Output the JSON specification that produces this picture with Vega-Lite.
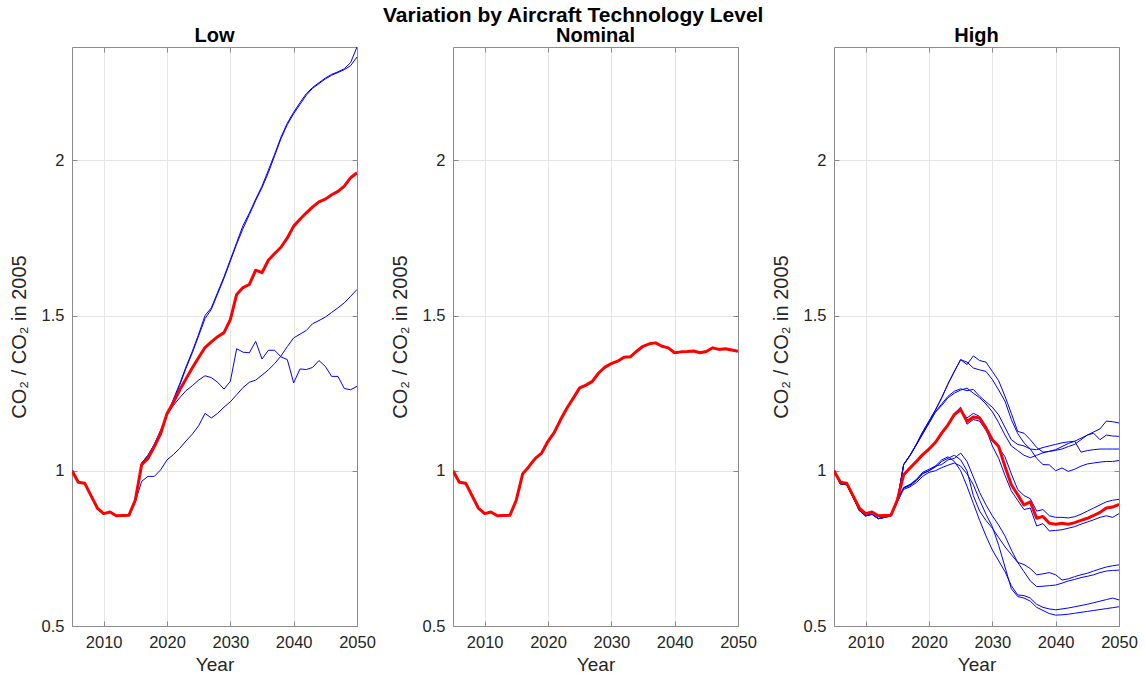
{
"$schema":"https://vega.github.io/schema/vega-lite/v6.json",
"padding":{"left":9,"top":4,"right":5,"bottom":2},
"background":"white",
"title":{"text":"Variation by Aircraft Technology Level","fontSize":21,"fontWeight":"bold","font":"Liberation Sans","color":"#000000","anchor":"middle","offset":0},
"bounds":"flush",
"spacing":96,
"data":{"values":[
{"p":"Low","s":"r","year":2005,"v":1},{"p":"Low","s":"r","year":2006,"v":0.963},{"p":"Low","s":"r","year":2007,"v":0.96},{"p":"Low","s":"r","year":2008,"v":0.92},{"p":"Low","s":"r","year":2009,"v":0.88},{"p":"Low","s":"r","year":2010,"v":0.862},{"p":"Low","s":"r","year":2011,"v":0.867},{"p":"Low","s":"r","year":2012,"v":0.855},{"p":"Low","s":"r","year":2013,"v":0.856},{"p":"Low","s":"r","year":2014,"v":0.857},{"p":"Low","s":"r","year":2015,"v":0.906},{"p":"Low","s":"r","year":2016,"v":1.02},{"p":"Low","s":"r","year":2017,"v":1.04},{"p":"Low","s":"r","year":2018,"v":1.078},{"p":"Low","s":"r","year":2019,"v":1.12},{"p":"Low","s":"r","year":2020,"v":1.184},{"p":"Low","s":"r","year":2021,"v":1.22},{"p":"Low","s":"r","year":2022,"v":1.26},{"p":"Low","s":"r","year":2023,"v":1.296},{"p":"Low","s":"r","year":2024,"v":1.332},{"p":"Low","s":"r","year":2025,"v":1.365},{"p":"Low","s":"r","year":2026,"v":1.397},{"p":"Low","s":"r","year":2027,"v":1.415},{"p":"Low","s":"r","year":2028,"v":1.432},{"p":"Low","s":"r","year":2029,"v":1.445},{"p":"Low","s":"r","year":2030,"v":1.487},{"p":"Low","s":"r","year":2031,"v":1.568},{"p":"Low","s":"r","year":2032,"v":1.59},{"p":"Low","s":"r","year":2033,"v":1.6},{"p":"Low","s":"r","year":2034,"v":1.646},{"p":"Low","s":"r","year":2035,"v":1.638},{"p":"Low","s":"r","year":2036,"v":1.678},{"p":"Low","s":"r","year":2037,"v":1.7},{"p":"Low","s":"r","year":2038,"v":1.72},{"p":"Low","s":"r","year":2039,"v":1.75},{"p":"Low","s":"r","year":2040,"v":1.788},{"p":"Low","s":"r","year":2041,"v":1.81},{"p":"Low","s":"r","year":2042,"v":1.831},{"p":"Low","s":"r","year":2043,"v":1.85},{"p":"Low","s":"r","year":2044,"v":1.866},{"p":"Low","s":"r","year":2045,"v":1.875},{"p":"Low","s":"r","year":2046,"v":1.889},{"p":"Low","s":"r","year":2047,"v":1.9},{"p":"Low","s":"r","year":2048,"v":1.917},{"p":"Low","s":"r","year":2049,"v":1.944},{"p":"Low","s":"r","year":2050,"v":1.96},
{"p":"Low","s":"A","year":2005,"v":1},{"p":"Low","s":"A","year":2006,"v":0.963},{"p":"Low","s":"A","year":2007,"v":0.96},{"p":"Low","s":"A","year":2008,"v":0.92},{"p":"Low","s":"A","year":2009,"v":0.88},{"p":"Low","s":"A","year":2010,"v":0.862},{"p":"Low","s":"A","year":2011,"v":0.867},{"p":"Low","s":"A","year":2012,"v":0.855},{"p":"Low","s":"A","year":2013,"v":0.856},{"p":"Low","s":"A","year":2014,"v":0.857},{"p":"Low","s":"A","year":2015,"v":0.9},{"p":"Low","s":"A","year":2016,"v":1.025},{"p":"Low","s":"A","year":2017,"v":1.05},{"p":"Low","s":"A","year":2018,"v":1.085},{"p":"Low","s":"A","year":2019,"v":1.13},{"p":"Low","s":"A","year":2020,"v":1.18},{"p":"Low","s":"A","year":2021,"v":1.23},{"p":"Low","s":"A","year":2022,"v":1.28},{"p":"Low","s":"A","year":2023,"v":1.335},{"p":"Low","s":"A","year":2024,"v":1.385},{"p":"Low","s":"A","year":2025,"v":1.44},{"p":"Low","s":"A","year":2026,"v":1.5},{"p":"Low","s":"A","year":2027,"v":1.525},{"p":"Low","s":"A","year":2028,"v":1.575},{"p":"Low","s":"A","year":2029,"v":1.625},{"p":"Low","s":"A","year":2030,"v":1.68},{"p":"Low","s":"A","year":2031,"v":1.735},{"p":"Low","s":"A","year":2032,"v":1.79},{"p":"Low","s":"A","year":2033,"v":1.83},{"p":"Low","s":"A","year":2034,"v":1.875},{"p":"Low","s":"A","year":2035,"v":1.917},{"p":"Low","s":"A","year":2036,"v":1.968},{"p":"Low","s":"A","year":2037,"v":2.02},{"p":"Low","s":"A","year":2038,"v":2.075},{"p":"Low","s":"A","year":2039,"v":2.12},{"p":"Low","s":"A","year":2040,"v":2.155},{"p":"Low","s":"A","year":2041,"v":2.186},{"p":"Low","s":"A","year":2042,"v":2.215},{"p":"Low","s":"A","year":2043,"v":2.235},{"p":"Low","s":"A","year":2044,"v":2.25},{"p":"Low","s":"A","year":2045,"v":2.265},{"p":"Low","s":"A","year":2046,"v":2.277},{"p":"Low","s":"A","year":2047,"v":2.285},{"p":"Low","s":"A","year":2048,"v":2.295},{"p":"Low","s":"A","year":2049,"v":2.315},{"p":"Low","s":"A","year":2050,"v":2.365},
{"p":"Low","s":"B","year":2005,"v":1},{"p":"Low","s":"B","year":2006,"v":0.963},{"p":"Low","s":"B","year":2007,"v":0.96},{"p":"Low","s":"B","year":2008,"v":0.92},{"p":"Low","s":"B","year":2009,"v":0.88},{"p":"Low","s":"B","year":2010,"v":0.862},{"p":"Low","s":"B","year":2011,"v":0.867},{"p":"Low","s":"B","year":2012,"v":0.855},{"p":"Low","s":"B","year":2013,"v":0.856},{"p":"Low","s":"B","year":2014,"v":0.857},{"p":"Low","s":"B","year":2015,"v":0.9},{"p":"Low","s":"B","year":2016,"v":1.025},{"p":"Low","s":"B","year":2017,"v":1.05},{"p":"Low","s":"B","year":2018,"v":1.085},{"p":"Low","s":"B","year":2019,"v":1.13},{"p":"Low","s":"B","year":2020,"v":1.18},{"p":"Low","s":"B","year":2021,"v":1.225},{"p":"Low","s":"B","year":2022,"v":1.275},{"p":"Low","s":"B","year":2023,"v":1.33},{"p":"Low","s":"B","year":2024,"v":1.38},{"p":"Low","s":"B","year":2025,"v":1.435},{"p":"Low","s":"B","year":2026,"v":1.49},{"p":"Low","s":"B","year":2027,"v":1.52},{"p":"Low","s":"B","year":2028,"v":1.57},{"p":"Low","s":"B","year":2029,"v":1.62},{"p":"Low","s":"B","year":2030,"v":1.675},{"p":"Low","s":"B","year":2031,"v":1.73},{"p":"Low","s":"B","year":2032,"v":1.78},{"p":"Low","s":"B","year":2033,"v":1.825},{"p":"Low","s":"B","year":2034,"v":1.87},{"p":"Low","s":"B","year":2035,"v":1.912},{"p":"Low","s":"B","year":2036,"v":1.96},{"p":"Low","s":"B","year":2037,"v":2.015},{"p":"Low","s":"B","year":2038,"v":2.07},{"p":"Low","s":"B","year":2039,"v":2.115},{"p":"Low","s":"B","year":2040,"v":2.15},{"p":"Low","s":"B","year":2041,"v":2.18},{"p":"Low","s":"B","year":2042,"v":2.21},{"p":"Low","s":"B","year":2043,"v":2.232},{"p":"Low","s":"B","year":2044,"v":2.247},{"p":"Low","s":"B","year":2045,"v":2.262},{"p":"Low","s":"B","year":2046,"v":2.274},{"p":"Low","s":"B","year":2047,"v":2.283},{"p":"Low","s":"B","year":2048,"v":2.292},{"p":"Low","s":"B","year":2049,"v":2.305},{"p":"Low","s":"B","year":2050,"v":2.333},
{"p":"Low","s":"C","year":2005,"v":1},{"p":"Low","s":"C","year":2006,"v":0.963},{"p":"Low","s":"C","year":2007,"v":0.96},{"p":"Low","s":"C","year":2008,"v":0.92},{"p":"Low","s":"C","year":2009,"v":0.88},{"p":"Low","s":"C","year":2010,"v":0.862},{"p":"Low","s":"C","year":2011,"v":0.867},{"p":"Low","s":"C","year":2012,"v":0.855},{"p":"Low","s":"C","year":2013,"v":0.856},{"p":"Low","s":"C","year":2014,"v":0.857},{"p":"Low","s":"C","year":2015,"v":0.906},{"p":"Low","s":"C","year":2016,"v":1.02},{"p":"Low","s":"C","year":2017,"v":1.04},{"p":"Low","s":"C","year":2018,"v":1.078},{"p":"Low","s":"C","year":2019,"v":1.12},{"p":"Low","s":"C","year":2020,"v":1.18},{"p":"Low","s":"C","year":2021,"v":1.21},{"p":"Low","s":"C","year":2022,"v":1.235},{"p":"Low","s":"C","year":2023,"v":1.258},{"p":"Low","s":"C","year":2024,"v":1.274},{"p":"Low","s":"C","year":2025,"v":1.292},{"p":"Low","s":"C","year":2026,"v":1.306},{"p":"Low","s":"C","year":2027,"v":1.3},{"p":"Low","s":"C","year":2028,"v":1.285},{"p":"Low","s":"C","year":2029,"v":1.263},{"p":"Low","s":"C","year":2030,"v":1.288},{"p":"Low","s":"C","year":2031,"v":1.393},{"p":"Low","s":"C","year":2032,"v":1.382},{"p":"Low","s":"C","year":2033,"v":1.38},{"p":"Low","s":"C","year":2034,"v":1.417},{"p":"Low","s":"C","year":2035,"v":1.36},{"p":"Low","s":"C","year":2036,"v":1.388},{"p":"Low","s":"C","year":2037,"v":1.388},{"p":"Low","s":"C","year":2038,"v":1.367},{"p":"Low","s":"C","year":2039,"v":1.358},{"p":"Low","s":"C","year":2040,"v":1.283},{"p":"Low","s":"C","year":2041,"v":1.328},{"p":"Low","s":"C","year":2042,"v":1.326},{"p":"Low","s":"C","year":2043,"v":1.333},{"p":"Low","s":"C","year":2044,"v":1.355},{"p":"Low","s":"C","year":2045,"v":1.336},{"p":"Low","s":"C","year":2046,"v":1.304},{"p":"Low","s":"C","year":2047,"v":1.304},{"p":"Low","s":"C","year":2048,"v":1.265},{"p":"Low","s":"C","year":2049,"v":1.261},{"p":"Low","s":"C","year":2050,"v":1.272},
{"p":"Low","s":"D","year":2005,"v":1},{"p":"Low","s":"D","year":2006,"v":0.963},{"p":"Low","s":"D","year":2007,"v":0.96},{"p":"Low","s":"D","year":2008,"v":0.92},{"p":"Low","s":"D","year":2009,"v":0.88},{"p":"Low","s":"D","year":2010,"v":0.862},{"p":"Low","s":"D","year":2011,"v":0.867},{"p":"Low","s":"D","year":2012,"v":0.855},{"p":"Low","s":"D","year":2013,"v":0.856},{"p":"Low","s":"D","year":2014,"v":0.857},{"p":"Low","s":"D","year":2015,"v":0.9},{"p":"Low","s":"D","year":2016,"v":0.966},{"p":"Low","s":"D","year":2017,"v":0.982},{"p":"Low","s":"D","year":2018,"v":0.982},{"p":"Low","s":"D","year":2019,"v":1.003},{"p":"Low","s":"D","year":2020,"v":1.035},{"p":"Low","s":"D","year":2021,"v":1.052},{"p":"Low","s":"D","year":2022,"v":1.072},{"p":"Low","s":"D","year":2023,"v":1.096},{"p":"Low","s":"D","year":2024,"v":1.118},{"p":"Low","s":"D","year":2025,"v":1.145},{"p":"Low","s":"D","year":2026,"v":1.185},{"p":"Low","s":"D","year":2027,"v":1.17},{"p":"Low","s":"D","year":2028,"v":1.185},{"p":"Low","s":"D","year":2029,"v":1.205},{"p":"Low","s":"D","year":2030,"v":1.222},{"p":"Low","s":"D","year":2031,"v":1.245},{"p":"Low","s":"D","year":2032,"v":1.268},{"p":"Low","s":"D","year":2033,"v":1.285},{"p":"Low","s":"D","year":2034,"v":1.292},{"p":"Low","s":"D","year":2035,"v":1.308},{"p":"Low","s":"D","year":2036,"v":1.325},{"p":"Low","s":"D","year":2037,"v":1.345},{"p":"Low","s":"D","year":2038,"v":1.37},{"p":"Low","s":"D","year":2039,"v":1.4},{"p":"Low","s":"D","year":2040,"v":1.428},{"p":"Low","s":"D","year":2041,"v":1.44},{"p":"Low","s":"D","year":2042,"v":1.452},{"p":"Low","s":"D","year":2043,"v":1.474},{"p":"Low","s":"D","year":2044,"v":1.484},{"p":"Low","s":"D","year":2045,"v":1.495},{"p":"Low","s":"D","year":2046,"v":1.51},{"p":"Low","s":"D","year":2047,"v":1.525},{"p":"Low","s":"D","year":2048,"v":1.541},{"p":"Low","s":"D","year":2049,"v":1.562},{"p":"Low","s":"D","year":2050,"v":1.584},
{"p":"Nominal","s":"r","year":2005,"v":1},{"p":"Nominal","s":"r","year":2006,"v":0.963},{"p":"Nominal","s":"r","year":2007,"v":0.96},{"p":"Nominal","s":"r","year":2008,"v":0.92},{"p":"Nominal","s":"r","year":2009,"v":0.88},{"p":"Nominal","s":"r","year":2010,"v":0.862},{"p":"Nominal","s":"r","year":2011,"v":0.867},{"p":"Nominal","s":"r","year":2012,"v":0.855},{"p":"Nominal","s":"r","year":2013,"v":0.856},{"p":"Nominal","s":"r","year":2014,"v":0.857},{"p":"Nominal","s":"r","year":2015,"v":0.906},{"p":"Nominal","s":"r","year":2016,"v":0.99},{"p":"Nominal","s":"r","year":2017,"v":1.014},{"p":"Nominal","s":"r","year":2018,"v":1.04},{"p":"Nominal","s":"r","year":2019,"v":1.057},{"p":"Nominal","s":"r","year":2020,"v":1.095},{"p":"Nominal","s":"r","year":2021,"v":1.124},{"p":"Nominal","s":"r","year":2022,"v":1.165},{"p":"Nominal","s":"r","year":2023,"v":1.202},{"p":"Nominal","s":"r","year":2024,"v":1.234},{"p":"Nominal","s":"r","year":2025,"v":1.267},{"p":"Nominal","s":"r","year":2026,"v":1.276},{"p":"Nominal","s":"r","year":2027,"v":1.288},{"p":"Nominal","s":"r","year":2028,"v":1.315},{"p":"Nominal","s":"r","year":2029,"v":1.334},{"p":"Nominal","s":"r","year":2030,"v":1.345},{"p":"Nominal","s":"r","year":2031,"v":1.353},{"p":"Nominal","s":"r","year":2032,"v":1.366},{"p":"Nominal","s":"r","year":2033,"v":1.367},{"p":"Nominal","s":"r","year":2034,"v":1.385},{"p":"Nominal","s":"r","year":2035,"v":1.401},{"p":"Nominal","s":"r","year":2036,"v":1.409},{"p":"Nominal","s":"r","year":2037,"v":1.412},{"p":"Nominal","s":"r","year":2038,"v":1.401},{"p":"Nominal","s":"r","year":2039,"v":1.396},{"p":"Nominal","s":"r","year":2040,"v":1.38},{"p":"Nominal","s":"r","year":2041,"v":1.383},{"p":"Nominal","s":"r","year":2042,"v":1.384},{"p":"Nominal","s":"r","year":2043,"v":1.386},{"p":"Nominal","s":"r","year":2044,"v":1.38},{"p":"Nominal","s":"r","year":2045,"v":1.384},{"p":"Nominal","s":"r","year":2046,"v":1.396},{"p":"Nominal","s":"r","year":2047,"v":1.391},{"p":"Nominal","s":"r","year":2048,"v":1.393},{"p":"Nominal","s":"r","year":2049,"v":1.389},{"p":"Nominal","s":"r","year":2050,"v":1.385},
{"p":"High","s":"r","year":2005,"v":1},{"p":"High","s":"r","year":2006,"v":0.963},{"p":"High","s":"r","year":2007,"v":0.96},{"p":"High","s":"r","year":2008,"v":0.92},{"p":"High","s":"r","year":2009,"v":0.88},{"p":"High","s":"r","year":2010,"v":0.862},{"p":"High","s":"r","year":2011,"v":0.867},{"p":"High","s":"r","year":2012,"v":0.855},{"p":"High","s":"r","year":2013,"v":0.856},{"p":"High","s":"r","year":2014,"v":0.857},{"p":"High","s":"r","year":2015,"v":0.906},{"p":"High","s":"r","year":2016,"v":0.987},{"p":"High","s":"r","year":2017,"v":1.009},{"p":"High","s":"r","year":2018,"v":1.03},{"p":"High","s":"r","year":2019,"v":1.052},{"p":"High","s":"r","year":2020,"v":1.07},{"p":"High","s":"r","year":2021,"v":1.091},{"p":"High","s":"r","year":2022,"v":1.121},{"p":"High","s":"r","year":2023,"v":1.148},{"p":"High","s":"r","year":2024,"v":1.181},{"p":"High","s":"r","year":2025,"v":1.197},{"p":"High","s":"r","year":2026,"v":1.159},{"p":"High","s":"r","year":2027,"v":1.173},{"p":"High","s":"r","year":2028,"v":1.17},{"p":"High","s":"r","year":2029,"v":1.138},{"p":"High","s":"r","year":2030,"v":1.1},{"p":"High","s":"r","year":2031,"v":1.078},{"p":"High","s":"r","year":2032,"v":1.014},{"p":"High","s":"r","year":2033,"v":0.955},{"p":"High","s":"r","year":2034,"v":0.923},{"p":"High","s":"r","year":2035,"v":0.89},{"p":"High","s":"r","year":2036,"v":0.9},{"p":"High","s":"r","year":2037,"v":0.847},{"p":"High","s":"r","year":2038,"v":0.853},{"p":"High","s":"r","year":2039,"v":0.831},{"p":"High","s":"r","year":2040,"v":0.828},{"p":"High","s":"r","year":2041,"v":0.831},{"p":"High","s":"r","year":2042,"v":0.828},{"p":"High","s":"r","year":2043,"v":0.833},{"p":"High","s":"r","year":2044,"v":0.84},{"p":"High","s":"r","year":2045,"v":0.847},{"p":"High","s":"r","year":2046,"v":0.856},{"p":"High","s":"r","year":2047,"v":0.866},{"p":"High","s":"r","year":2048,"v":0.88},{"p":"High","s":"r","year":2049,"v":0.883},{"p":"High","s":"r","year":2050,"v":0.892},
{"p":"High","s":"Ua","year":2005,"v":1},{"p":"High","s":"Ua","year":2006,"v":0.958},{"p":"High","s":"Ua","year":2007,"v":0.955},{"p":"High","s":"Ua","year":2008,"v":0.915},{"p":"High","s":"Ua","year":2009,"v":0.872},{"p":"High","s":"Ua","year":2010,"v":0.855},{"p":"High","s":"Ua","year":2011,"v":0.86},{"p":"High","s":"Ua","year":2012,"v":0.846},{"p":"High","s":"Ua","year":2013,"v":0.85},{"p":"High","s":"Ua","year":2014,"v":0.855},{"p":"High","s":"Ua","year":2015,"v":0.9},{"p":"High","s":"Ua","year":2016,"v":1.02},{"p":"High","s":"Ua","year":2017,"v":1.05},{"p":"High","s":"Ua","year":2018,"v":1.085},{"p":"High","s":"Ua","year":2019,"v":1.125},{"p":"High","s":"Ua","year":2020,"v":1.16},{"p":"High","s":"Ua","year":2021,"v":1.195},{"p":"High","s":"Ua","year":2022,"v":1.235},{"p":"High","s":"Ua","year":2023,"v":1.28},{"p":"High","s":"Ua","year":2024,"v":1.32},{"p":"High","s":"Ua","year":2025,"v":1.358},{"p":"High","s":"Ua","year":2026,"v":1.342},{"p":"High","s":"Ua","year":2027,"v":1.37},{"p":"High","s":"Ua","year":2028,"v":1.355},{"p":"High","s":"Ua","year":2029,"v":1.35},{"p":"High","s":"Ua","year":2030,"v":1.32},{"p":"High","s":"Ua","year":2031,"v":1.29},{"p":"High","s":"Ua","year":2032,"v":1.24},{"p":"High","s":"Ua","year":2033,"v":1.185},{"p":"High","s":"Ua","year":2034,"v":1.127},{"p":"High","s":"Ua","year":2035,"v":1.121},{"p":"High","s":"Ua","year":2036,"v":1.1},{"p":"High","s":"Ua","year":2037,"v":1.075},{"p":"High","s":"Ua","year":2038,"v":1.06},{"p":"High","s":"Ua","year":2039,"v":1.062},{"p":"High","s":"Ua","year":2040,"v":1.066},{"p":"High","s":"Ua","year":2041,"v":1.07},{"p":"High","s":"Ua","year":2042,"v":1.078},{"p":"High","s":"Ua","year":2043,"v":1.085},{"p":"High","s":"Ua","year":2044,"v":1.1},{"p":"High","s":"Ua","year":2045,"v":1.115},{"p":"High","s":"Ua","year":2046,"v":1.125},{"p":"High","s":"Ua","year":2047,"v":1.135},{"p":"High","s":"Ua","year":2048,"v":1.16},{"p":"High","s":"Ua","year":2049,"v":1.158},{"p":"High","s":"Ua","year":2050,"v":1.154},
{"p":"High","s":"Ub","year":2005,"v":1},{"p":"High","s":"Ub","year":2006,"v":0.958},{"p":"High","s":"Ub","year":2007,"v":0.955},{"p":"High","s":"Ub","year":2008,"v":0.915},{"p":"High","s":"Ub","year":2009,"v":0.872},{"p":"High","s":"Ub","year":2010,"v":0.855},{"p":"High","s":"Ub","year":2011,"v":0.86},{"p":"High","s":"Ub","year":2012,"v":0.846},{"p":"High","s":"Ub","year":2013,"v":0.85},{"p":"High","s":"Ub","year":2014,"v":0.855},{"p":"High","s":"Ub","year":2015,"v":0.9},{"p":"High","s":"Ub","year":2016,"v":1.02},{"p":"High","s":"Ub","year":2017,"v":1.05},{"p":"High","s":"Ub","year":2018,"v":1.085},{"p":"High","s":"Ub","year":2019,"v":1.125},{"p":"High","s":"Ub","year":2020,"v":1.16},{"p":"High","s":"Ub","year":2021,"v":1.195},{"p":"High","s":"Ub","year":2022,"v":1.235},{"p":"High","s":"Ub","year":2023,"v":1.28},{"p":"High","s":"Ub","year":2024,"v":1.32},{"p":"High","s":"Ub","year":2025,"v":1.358},{"p":"High","s":"Ub","year":2026,"v":1.35},{"p":"High","s":"Ub","year":2027,"v":1.331},{"p":"High","s":"Ub","year":2028,"v":1.325},{"p":"High","s":"Ub","year":2029,"v":1.32},{"p":"High","s":"Ub","year":2030,"v":1.294},{"p":"High","s":"Ub","year":2031,"v":1.26},{"p":"High","s":"Ub","year":2032,"v":1.224},{"p":"High","s":"Ub","year":2033,"v":1.165},{"p":"High","s":"Ub","year":2034,"v":1.12},{"p":"High","s":"Ub","year":2035,"v":1.09},{"p":"High","s":"Ub","year":2036,"v":1.07},{"p":"High","s":"Ub","year":2037,"v":1.04},{"p":"High","s":"Ub","year":2038,"v":1.02},{"p":"High","s":"Ub","year":2039,"v":1.019},{"p":"High","s":"Ub","year":2040,"v":1.0},{"p":"High","s":"Ub","year":2041,"v":1.009},{"p":"High","s":"Ub","year":2042,"v":0.998},{"p":"High","s":"Ub","year":2043,"v":1.005},{"p":"High","s":"Ub","year":2044,"v":1.015},{"p":"High","s":"Ub","year":2045,"v":1.022},{"p":"High","s":"Ub","year":2046,"v":1.025},{"p":"High","s":"Ub","year":2047,"v":1.028},{"p":"High","s":"Ub","year":2048,"v":1.03},{"p":"High","s":"Ub","year":2049,"v":1.03},{"p":"High","s":"Ub","year":2050,"v":1.033},
{"p":"High","s":"Va","year":2005,"v":1},{"p":"High","s":"Va","year":2006,"v":0.963},{"p":"High","s":"Va","year":2007,"v":0.96},{"p":"High","s":"Va","year":2008,"v":0.92},{"p":"High","s":"Va","year":2009,"v":0.88},{"p":"High","s":"Va","year":2010,"v":0.862},{"p":"High","s":"Va","year":2011,"v":0.867},{"p":"High","s":"Va","year":2012,"v":0.855},{"p":"High","s":"Va","year":2013,"v":0.856},{"p":"High","s":"Va","year":2014,"v":0.857},{"p":"High","s":"Va","year":2015,"v":0.906},{"p":"High","s":"Va","year":2016,"v":1.02},{"p":"High","s":"Va","year":2017,"v":1.05},{"p":"High","s":"Va","year":2018,"v":1.085},{"p":"High","s":"Va","year":2019,"v":1.12},{"p":"High","s":"Va","year":2020,"v":1.155},{"p":"High","s":"Va","year":2021,"v":1.19},{"p":"High","s":"Va","year":2022,"v":1.215},{"p":"High","s":"Va","year":2023,"v":1.24},{"p":"High","s":"Va","year":2024,"v":1.256},{"p":"High","s":"Va","year":2025,"v":1.264},{"p":"High","s":"Va","year":2026,"v":1.258},{"p":"High","s":"Va","year":2027,"v":1.262},{"p":"High","s":"Va","year":2028,"v":1.24},{"p":"High","s":"Va","year":2029,"v":1.222},{"p":"High","s":"Va","year":2030,"v":1.205},{"p":"High","s":"Va","year":2031,"v":1.18},{"p":"High","s":"Va","year":2032,"v":1.14},{"p":"High","s":"Va","year":2033,"v":1.1},{"p":"High","s":"Va","year":2034,"v":1.085},{"p":"High","s":"Va","year":2035,"v":1.08},{"p":"High","s":"Va","year":2036,"v":1.07},{"p":"High","s":"Va","year":2037,"v":1.068},{"p":"High","s":"Va","year":2038,"v":1.075},{"p":"High","s":"Va","year":2039,"v":1.08},{"p":"High","s":"Va","year":2040,"v":1.085},{"p":"High","s":"Va","year":2041,"v":1.09},{"p":"High","s":"Va","year":2042,"v":1.093},{"p":"High","s":"Va","year":2043,"v":1.095},{"p":"High","s":"Va","year":2044,"v":1.06},{"p":"High","s":"Va","year":2045,"v":1.065},{"p":"High","s":"Va","year":2046,"v":1.068},{"p":"High","s":"Va","year":2047,"v":1.07},{"p":"High","s":"Va","year":2048,"v":1.07},{"p":"High","s":"Va","year":2049,"v":1.07},{"p":"High","s":"Va","year":2050,"v":1.07},
{"p":"High","s":"Vb","year":2005,"v":1},{"p":"High","s":"Vb","year":2006,"v":0.963},{"p":"High","s":"Vb","year":2007,"v":0.96},{"p":"High","s":"Vb","year":2008,"v":0.92},{"p":"High","s":"Vb","year":2009,"v":0.88},{"p":"High","s":"Vb","year":2010,"v":0.862},{"p":"High","s":"Vb","year":2011,"v":0.867},{"p":"High","s":"Vb","year":2012,"v":0.855},{"p":"High","s":"Vb","year":2013,"v":0.856},{"p":"High","s":"Vb","year":2014,"v":0.857},{"p":"High","s":"Vb","year":2015,"v":0.906},{"p":"High","s":"Vb","year":2016,"v":1.02},{"p":"High","s":"Vb","year":2017,"v":1.048},{"p":"High","s":"Vb","year":2018,"v":1.083},{"p":"High","s":"Vb","year":2019,"v":1.118},{"p":"High","s":"Vb","year":2020,"v":1.153},{"p":"High","s":"Vb","year":2021,"v":1.188},{"p":"High","s":"Vb","year":2022,"v":1.21},{"p":"High","s":"Vb","year":2023,"v":1.235},{"p":"High","s":"Vb","year":2024,"v":1.25},{"p":"High","s":"Vb","year":2025,"v":1.26},{"p":"High","s":"Vb","year":2026,"v":1.266},{"p":"High","s":"Vb","year":2027,"v":1.25},{"p":"High","s":"Vb","year":2028,"v":1.235},{"p":"High","s":"Vb","year":2029,"v":1.215},{"p":"High","s":"Vb","year":2030,"v":1.19},{"p":"High","s":"Vb","year":2031,"v":1.155},{"p":"High","s":"Vb","year":2032,"v":1.115},{"p":"High","s":"Vb","year":2033,"v":1.08},{"p":"High","s":"Vb","year":2034,"v":1.065},{"p":"High","s":"Vb","year":2035,"v":1.05},{"p":"High","s":"Vb","year":2036,"v":1.042},{"p":"High","s":"Vb","year":2037,"v":1.05},{"p":"High","s":"Vb","year":2038,"v":1.058},{"p":"High","s":"Vb","year":2039,"v":1.063},{"p":"High","s":"Vb","year":2040,"v":1.068},{"p":"High","s":"Vb","year":2041,"v":1.078},{"p":"High","s":"Vb","year":2042,"v":1.088},{"p":"High","s":"Vb","year":2043,"v":1.095},{"p":"High","s":"Vb","year":2044,"v":1.105},{"p":"High","s":"Vb","year":2045,"v":1.115},{"p":"High","s":"Vb","year":2046,"v":1.121},{"p":"High","s":"Vb","year":2047,"v":1.1},{"p":"High","s":"Vb","year":2048,"v":1.115},{"p":"High","s":"Vb","year":2049,"v":1.112},{"p":"High","s":"Vb","year":2050,"v":1.111},
{"p":"High","s":"Ma","year":2005,"v":1},{"p":"High","s":"Ma","year":2006,"v":0.963},{"p":"High","s":"Ma","year":2007,"v":0.96},{"p":"High","s":"Ma","year":2008,"v":0.92},{"p":"High","s":"Ma","year":2009,"v":0.88},{"p":"High","s":"Ma","year":2010,"v":0.862},{"p":"High","s":"Ma","year":2011,"v":0.867},{"p":"High","s":"Ma","year":2012,"v":0.855},{"p":"High","s":"Ma","year":2013,"v":0.856},{"p":"High","s":"Ma","year":2014,"v":0.857},{"p":"High","s":"Ma","year":2015,"v":0.906},{"p":"High","s":"Ma","year":2016,"v":0.99},{"p":"High","s":"Ma","year":2017,"v":1.01},{"p":"High","s":"Ma","year":2018,"v":1.03},{"p":"High","s":"Ma","year":2019,"v":1.052},{"p":"High","s":"Ma","year":2020,"v":1.07},{"p":"High","s":"Ma","year":2021,"v":1.09},{"p":"High","s":"Ma","year":2022,"v":1.12},{"p":"High","s":"Ma","year":2023,"v":1.15},{"p":"High","s":"Ma","year":2024,"v":1.185},{"p":"High","s":"Ma","year":2025,"v":1.205},{"p":"High","s":"Ma","year":2026,"v":1.15},{"p":"High","s":"Ma","year":2027,"v":1.165},{"p":"High","s":"Ma","year":2028,"v":1.16},{"p":"High","s":"Ma","year":2029,"v":1.13},{"p":"High","s":"Ma","year":2030,"v":1.095},{"p":"High","s":"Ma","year":2031,"v":1.075},{"p":"High","s":"Ma","year":2032,"v":1.045},{"p":"High","s":"Ma","year":2033,"v":0.99},{"p":"High","s":"Ma","year":2034,"v":0.94},{"p":"High","s":"Ma","year":2035,"v":0.92},{"p":"High","s":"Ma","year":2036,"v":0.91},{"p":"High","s":"Ma","year":2037,"v":0.87},{"p":"High","s":"Ma","year":2038,"v":0.875},{"p":"High","s":"Ma","year":2039,"v":0.855},{"p":"High","s":"Ma","year":2040,"v":0.85},{"p":"High","s":"Ma","year":2041,"v":0.85},{"p":"High","s":"Ma","year":2042,"v":0.848},{"p":"High","s":"Ma","year":2043,"v":0.852},{"p":"High","s":"Ma","year":2044,"v":0.86},{"p":"High","s":"Ma","year":2045,"v":0.87},{"p":"High","s":"Ma","year":2046,"v":0.88},{"p":"High","s":"Ma","year":2047,"v":0.89},{"p":"High","s":"Ma","year":2048,"v":0.9},{"p":"High","s":"Ma","year":2049,"v":0.905},{"p":"High","s":"Ma","year":2050,"v":0.908},
{"p":"High","s":"Mb","year":2005,"v":1},{"p":"High","s":"Mb","year":2006,"v":0.958},{"p":"High","s":"Mb","year":2007,"v":0.955},{"p":"High","s":"Mb","year":2008,"v":0.915},{"p":"High","s":"Mb","year":2009,"v":0.872},{"p":"High","s":"Mb","year":2010,"v":0.855},{"p":"High","s":"Mb","year":2011,"v":0.86},{"p":"High","s":"Mb","year":2012,"v":0.846},{"p":"High","s":"Mb","year":2013,"v":0.85},{"p":"High","s":"Mb","year":2014,"v":0.855},{"p":"High","s":"Mb","year":2015,"v":0.9},{"p":"High","s":"Mb","year":2016,"v":0.985},{"p":"High","s":"Mb","year":2017,"v":1.007},{"p":"High","s":"Mb","year":2018,"v":1.028},{"p":"High","s":"Mb","year":2019,"v":1.05},{"p":"High","s":"Mb","year":2020,"v":1.068},{"p":"High","s":"Mb","year":2021,"v":1.088},{"p":"High","s":"Mb","year":2022,"v":1.118},{"p":"High","s":"Mb","year":2023,"v":1.145},{"p":"High","s":"Mb","year":2024,"v":1.178},{"p":"High","s":"Mb","year":2025,"v":1.195},{"p":"High","s":"Mb","year":2026,"v":1.17},{"p":"High","s":"Mb","year":2027,"v":1.185},{"p":"High","s":"Mb","year":2028,"v":1.175},{"p":"High","s":"Mb","year":2029,"v":1.135},{"p":"High","s":"Mb","year":2030,"v":1.08},{"p":"High","s":"Mb","year":2031,"v":1.04},{"p":"High","s":"Mb","year":2032,"v":0.985},{"p":"High","s":"Mb","year":2033,"v":0.935},{"p":"High","s":"Mb","year":2034,"v":0.905},{"p":"High","s":"Mb","year":2035,"v":0.875},{"p":"High","s":"Mb","year":2036,"v":0.88},{"p":"High","s":"Mb","year":2037,"v":0.822},{"p":"High","s":"Mb","year":2038,"v":0.83},{"p":"High","s":"Mb","year":2039,"v":0.806},{"p":"High","s":"Mb","year":2040,"v":0.808},{"p":"High","s":"Mb","year":2041,"v":0.81},{"p":"High","s":"Mb","year":2042,"v":0.815},{"p":"High","s":"Mb","year":2043,"v":0.82},{"p":"High","s":"Mb","year":2044,"v":0.828},{"p":"High","s":"Mb","year":2045,"v":0.835},{"p":"High","s":"Mb","year":2046,"v":0.842},{"p":"High","s":"Mb","year":2047,"v":0.85},{"p":"High","s":"Mb","year":2048,"v":0.855},{"p":"High","s":"Mb","year":2049,"v":0.85},{"p":"High","s":"Mb","year":2050,"v":0.862},
{"p":"High","s":"W1","year":2005,"v":1},{"p":"High","s":"W1","year":2006,"v":0.963},{"p":"High","s":"W1","year":2007,"v":0.96},{"p":"High","s":"W1","year":2008,"v":0.92},{"p":"High","s":"W1","year":2009,"v":0.88},{"p":"High","s":"W1","year":2010,"v":0.862},{"p":"High","s":"W1","year":2011,"v":0.867},{"p":"High","s":"W1","year":2012,"v":0.855},{"p":"High","s":"W1","year":2013,"v":0.856},{"p":"High","s":"W1","year":2014,"v":0.857},{"p":"High","s":"W1","year":2015,"v":0.906},{"p":"High","s":"W1","year":2016,"v":0.944},{"p":"High","s":"W1","year":2017,"v":0.952},{"p":"High","s":"W1","year":2018,"v":0.968},{"p":"High","s":"W1","year":2019,"v":0.99},{"p":"High","s":"W1","year":2020,"v":1.0},{"p":"High","s":"W1","year":2021,"v":1.015},{"p":"High","s":"W1","year":2022,"v":1.035},{"p":"High","s":"W1","year":2023,"v":1.045},{"p":"High","s":"W1","year":2024,"v":1.03},{"p":"High","s":"W1","year":2025,"v":1.0},{"p":"High","s":"W1","year":2026,"v":0.95},{"p":"High","s":"W1","year":2027,"v":0.895},{"p":"High","s":"W1","year":2028,"v":0.84},{"p":"High","s":"W1","year":2029,"v":0.79},{"p":"High","s":"W1","year":2030,"v":0.745},{"p":"High","s":"W1","year":2031,"v":0.71},{"p":"High","s":"W1","year":2032,"v":0.675},{"p":"High","s":"W1","year":2033,"v":0.63},{"p":"High","s":"W1","year":2034,"v":0.6},{"p":"High","s":"W1","year":2035,"v":0.598},{"p":"High","s":"W1","year":2036,"v":0.59},{"p":"High","s":"W1","year":2037,"v":0.57},{"p":"High","s":"W1","year":2038,"v":0.56},{"p":"High","s":"W1","year":2039,"v":0.555},{"p":"High","s":"W1","year":2040,"v":0.552},{"p":"High","s":"W1","year":2041,"v":0.555},{"p":"High","s":"W1","year":2042,"v":0.558},{"p":"High","s":"W1","year":2043,"v":0.562},{"p":"High","s":"W1","year":2044,"v":0.566},{"p":"High","s":"W1","year":2045,"v":0.57},{"p":"High","s":"W1","year":2046,"v":0.575},{"p":"High","s":"W1","year":2047,"v":0.58},{"p":"High","s":"W1","year":2048,"v":0.585},{"p":"High","s":"W1","year":2049,"v":0.59},{"p":"High","s":"W1","year":2050,"v":0.584},
{"p":"High","s":"W2","year":2005,"v":1},{"p":"High","s":"W2","year":2006,"v":0.958},{"p":"High","s":"W2","year":2007,"v":0.955},{"p":"High","s":"W2","year":2008,"v":0.915},{"p":"High","s":"W2","year":2009,"v":0.872},{"p":"High","s":"W2","year":2010,"v":0.855},{"p":"High","s":"W2","year":2011,"v":0.86},{"p":"High","s":"W2","year":2012,"v":0.846},{"p":"High","s":"W2","year":2013,"v":0.85},{"p":"High","s":"W2","year":2014,"v":0.855},{"p":"High","s":"W2","year":2015,"v":0.9},{"p":"High","s":"W2","year":2016,"v":0.94},{"p":"High","s":"W2","year":2017,"v":0.948},{"p":"High","s":"W2","year":2018,"v":0.962},{"p":"High","s":"W2","year":2019,"v":0.982},{"p":"High","s":"W2","year":2020,"v":0.995},{"p":"High","s":"W2","year":2021,"v":1.0},{"p":"High","s":"W2","year":2022,"v":1.01},{"p":"High","s":"W2","year":2023,"v":1.018},{"p":"High","s":"W2","year":2024,"v":1.025},{"p":"High","s":"W2","year":2025,"v":1.015},{"p":"High","s":"W2","year":2026,"v":0.99},{"p":"High","s":"W2","year":2027,"v":0.955},{"p":"High","s":"W2","year":2028,"v":0.905},{"p":"High","s":"W2","year":2029,"v":0.86},{"p":"High","s":"W2","year":2030,"v":0.82},{"p":"High","s":"W2","year":2031,"v":0.76},{"p":"High","s":"W2","year":2032,"v":0.69},{"p":"High","s":"W2","year":2033,"v":0.62},{"p":"High","s":"W2","year":2034,"v":0.595},{"p":"High","s":"W2","year":2035,"v":0.59},{"p":"High","s":"W2","year":2036,"v":0.58},{"p":"High","s":"W2","year":2037,"v":0.56},{"p":"High","s":"W2","year":2038,"v":0.55},{"p":"High","s":"W2","year":2039,"v":0.54},{"p":"High","s":"W2","year":2040,"v":0.535},{"p":"High","s":"W2","year":2041,"v":0.536},{"p":"High","s":"W2","year":2042,"v":0.538},{"p":"High","s":"W2","year":2043,"v":0.541},{"p":"High","s":"W2","year":2044,"v":0.544},{"p":"High","s":"W2","year":2045,"v":0.547},{"p":"High","s":"W2","year":2046,"v":0.55},{"p":"High","s":"W2","year":2047,"v":0.553},{"p":"High","s":"W2","year":2048,"v":0.556},{"p":"High","s":"W2","year":2049,"v":0.559},{"p":"High","s":"W2","year":2050,"v":0.562},
{"p":"High","s":"W3","year":2005,"v":1},{"p":"High","s":"W3","year":2006,"v":0.963},{"p":"High","s":"W3","year":2007,"v":0.96},{"p":"High","s":"W3","year":2008,"v":0.92},{"p":"High","s":"W3","year":2009,"v":0.88},{"p":"High","s":"W3","year":2010,"v":0.862},{"p":"High","s":"W3","year":2011,"v":0.867},{"p":"High","s":"W3","year":2012,"v":0.855},{"p":"High","s":"W3","year":2013,"v":0.856},{"p":"High","s":"W3","year":2014,"v":0.857},{"p":"High","s":"W3","year":2015,"v":0.906},{"p":"High","s":"W3","year":2016,"v":0.945},{"p":"High","s":"W3","year":2017,"v":0.955},{"p":"High","s":"W3","year":2018,"v":0.97},{"p":"High","s":"W3","year":2019,"v":0.992},{"p":"High","s":"W3","year":2020,"v":1.0},{"p":"High","s":"W3","year":2021,"v":1.012},{"p":"High","s":"W3","year":2022,"v":1.03},{"p":"High","s":"W3","year":2023,"v":1.04},{"p":"High","s":"W3","year":2024,"v":1.05},{"p":"High","s":"W3","year":2025,"v":1.035},{"p":"High","s":"W3","year":2026,"v":1.0},{"p":"High","s":"W3","year":2027,"v":0.92},{"p":"High","s":"W3","year":2028,"v":0.87},{"p":"High","s":"W3","year":2029,"v":0.84},{"p":"High","s":"W3","year":2030,"v":0.815},{"p":"High","s":"W3","year":2031,"v":0.785},{"p":"High","s":"W3","year":2032,"v":0.755},{"p":"High","s":"W3","year":2033,"v":0.73},{"p":"High","s":"W3","year":2034,"v":0.705},{"p":"High","s":"W3","year":2035,"v":0.698},{"p":"High","s":"W3","year":2036,"v":0.685},{"p":"High","s":"W3","year":2037,"v":0.665},{"p":"High","s":"W3","year":2038,"v":0.668},{"p":"High","s":"W3","year":2039,"v":0.672},{"p":"High","s":"W3","year":2040,"v":0.665},{"p":"High","s":"W3","year":2041,"v":0.648},{"p":"High","s":"W3","year":2042,"v":0.652},{"p":"High","s":"W3","year":2043,"v":0.659},{"p":"High","s":"W3","year":2044,"v":0.665},{"p":"High","s":"W3","year":2045,"v":0.67},{"p":"High","s":"W3","year":2046,"v":0.677},{"p":"High","s":"W3","year":2047,"v":0.684},{"p":"High","s":"W3","year":2048,"v":0.69},{"p":"High","s":"W3","year":2049,"v":0.694},{"p":"High","s":"W3","year":2050,"v":0.697},
{"p":"High","s":"W4","year":2005,"v":1},{"p":"High","s":"W4","year":2006,"v":0.958},{"p":"High","s":"W4","year":2007,"v":0.955},{"p":"High","s":"W4","year":2008,"v":0.915},{"p":"High","s":"W4","year":2009,"v":0.872},{"p":"High","s":"W4","year":2010,"v":0.855},{"p":"High","s":"W4","year":2011,"v":0.86},{"p":"High","s":"W4","year":2012,"v":0.846},{"p":"High","s":"W4","year":2013,"v":0.85},{"p":"High","s":"W4","year":2014,"v":0.855},{"p":"High","s":"W4","year":2015,"v":0.9},{"p":"High","s":"W4","year":2016,"v":0.946},{"p":"High","s":"W4","year":2017,"v":0.956},{"p":"High","s":"W4","year":2018,"v":0.972},{"p":"High","s":"W4","year":2019,"v":0.995},{"p":"High","s":"W4","year":2020,"v":1.005},{"p":"High","s":"W4","year":2021,"v":1.015},{"p":"High","s":"W4","year":2022,"v":1.02},{"p":"High","s":"W4","year":2023,"v":1.035},{"p":"High","s":"W4","year":2024,"v":1.04},{"p":"High","s":"W4","year":2025,"v":1.057},{"p":"High","s":"W4","year":2026,"v":1.03},{"p":"High","s":"W4","year":2027,"v":0.98},{"p":"High","s":"W4","year":2028,"v":0.93},{"p":"High","s":"W4","year":2029,"v":0.89},{"p":"High","s":"W4","year":2030,"v":0.855},{"p":"High","s":"W4","year":2031,"v":0.825},{"p":"High","s":"W4","year":2032,"v":0.79},{"p":"High","s":"W4","year":2033,"v":0.745},{"p":"High","s":"W4","year":2034,"v":0.705},{"p":"High","s":"W4","year":2035,"v":0.675},{"p":"High","s":"W4","year":2036,"v":0.645},{"p":"High","s":"W4","year":2037,"v":0.627},{"p":"High","s":"W4","year":2038,"v":0.628},{"p":"High","s":"W4","year":2039,"v":0.63},{"p":"High","s":"W4","year":2040,"v":0.632},{"p":"High","s":"W4","year":2041,"v":0.638},{"p":"High","s":"W4","year":2042,"v":0.645},{"p":"High","s":"W4","year":2043,"v":0.65},{"p":"High","s":"W4","year":2044,"v":0.656},{"p":"High","s":"W4","year":2045,"v":0.66},{"p":"High","s":"W4","year":2046,"v":0.665},{"p":"High","s":"W4","year":2047,"v":0.672},{"p":"High","s":"W4","year":2048,"v":0.677},{"p":"High","s":"W4","year":2049,"v":0.679},{"p":"High","s":"W4","year":2050,"v":0.68}
]},
"hconcat":[
{"width":285,"height":579,"title":{"text":"Low"},
 "transform":[{"filter":"datum.p=='Low'"}],
 "layer":[
  {"transform":[{"filter":"datum.s!='r'"}],"mark":{"type":"line","color":"#0000ff","strokeWidth":1,"clip":true},
   "encoding":{"x":{"field":"year","type":"quantitative","scale":{"domain":[2005,2050],"nice":false,"zero":false},"axis":{"orient":"bottom","values":[2010,2020,2030,2040,2050],"format":"d","title":"Year","grid":true}},
    "y":{"field":"v","type":"quantitative","scale":{"domain":[0.5,2.365],"nice":false,"zero":false},"axis":{"orient":"left","values":[0.5,1,1.5,2],"format":"~g","title":"CO₂ / CO₂ in 2005","grid":true}},
    "detail":{"field":"s"}}},
  {"transform":[{"filter":"datum.s=='r'"}],"mark":{"type":"line","color":"#ff0000","strokeWidth":3,"clip":true},
   "encoding":{"x":{"field":"year","type":"quantitative","axis":{"orient":"top","values":[2010,2020,2030,2040,2050],"labels":false,"title":null,"grid":false}},
    "y":{"field":"v","type":"quantitative","axis":{"orient":"right","values":[0.5,1,1.5,2],"labels":false,"title":null,"grid":false}}}}
 ],
 "resolve":{"axis":{"x":"independent","y":"independent"}}},
{"width":285,"height":579,"title":{"text":"Nominal"},
 "transform":[{"filter":"datum.p=='Nominal'"}],
 "layer":[
  {"transform":[{"filter":"datum.s!='r'"}],"mark":{"type":"line","color":"#0000ff","strokeWidth":1,"clip":true},
   "encoding":{"x":{"field":"year","type":"quantitative","scale":{"domain":[2005,2050],"nice":false,"zero":false},"axis":{"orient":"bottom","values":[2010,2020,2030,2040,2050],"format":"d","title":"Year","grid":true}},
    "y":{"field":"v","type":"quantitative","scale":{"domain":[0.5,2.365],"nice":false,"zero":false},"axis":{"orient":"left","values":[0.5,1,1.5,2],"format":"~g","title":"CO₂ / CO₂ in 2005","grid":true}},
    "detail":{"field":"s"}}},
  {"transform":[{"filter":"datum.s=='r'"}],"mark":{"type":"line","color":"#ff0000","strokeWidth":3,"clip":true},
   "encoding":{"x":{"field":"year","type":"quantitative","axis":{"orient":"top","values":[2010,2020,2030,2040,2050],"labels":false,"title":null,"grid":false}},
    "y":{"field":"v","type":"quantitative","axis":{"orient":"right","values":[0.5,1,1.5,2],"labels":false,"title":null,"grid":false}}}}
 ],
 "resolve":{"axis":{"x":"independent","y":"independent"}}},
{"width":285,"height":579,"title":{"text":"High"},
 "transform":[{"filter":"datum.p=='High'"}],
 "layer":[
  {"transform":[{"filter":"datum.s!='r'"}],"mark":{"type":"line","color":"#0000ff","strokeWidth":1,"clip":true},
   "encoding":{"x":{"field":"year","type":"quantitative","scale":{"domain":[2005,2050],"nice":false,"zero":false},"axis":{"orient":"bottom","values":[2010,2020,2030,2040,2050],"format":"d","title":"Year","grid":true}},
    "y":{"field":"v","type":"quantitative","scale":{"domain":[0.5,2.365],"nice":false,"zero":false},"axis":{"orient":"left","values":[0.5,1,1.5,2],"format":"~g","title":"CO₂ / CO₂ in 2005","grid":true}},
    "detail":{"field":"s"}}},
  {"transform":[{"filter":"datum.s=='r'"}],"mark":{"type":"line","color":"#ff0000","strokeWidth":3,"clip":true},
   "encoding":{"x":{"field":"year","type":"quantitative","axis":{"orient":"top","values":[2010,2020,2030,2040,2050],"labels":false,"title":null,"grid":false}},
    "y":{"field":"v","type":"quantitative","axis":{"orient":"right","values":[0.5,1,1.5,2],"labels":false,"title":null,"grid":false}}}}
 ],
 "resolve":{"axis":{"x":"independent","y":"independent"}}}
],
"config":{
 "view":{"stroke":null},
 "title":{"fontSize":20,"fontWeight":"bold","font":"Liberation Sans","color":"#000000","offset":1},
 "axis":{"domainColor":"#8c8c8c","tickColor":"#8c8c8c","gridColor":"#e6e6e6","gridWidth":1,"tickSize":-5,"labelPadding":13,"labelFont":"Liberation Sans","labelFontSize":16.5,"labelColor":"#262626","titleFont":"Liberation Sans","titleFontWeight":"normal","titleColor":"#262626","labelFlush":false,"labelOverlap":false},
 "axisX":{"titleFontSize":19,"titlePadding":5},
 "axisY":{"titleFontSize":20,"titlePadding":12},
 "line":{"strokeJoin":"round"}
}
}
